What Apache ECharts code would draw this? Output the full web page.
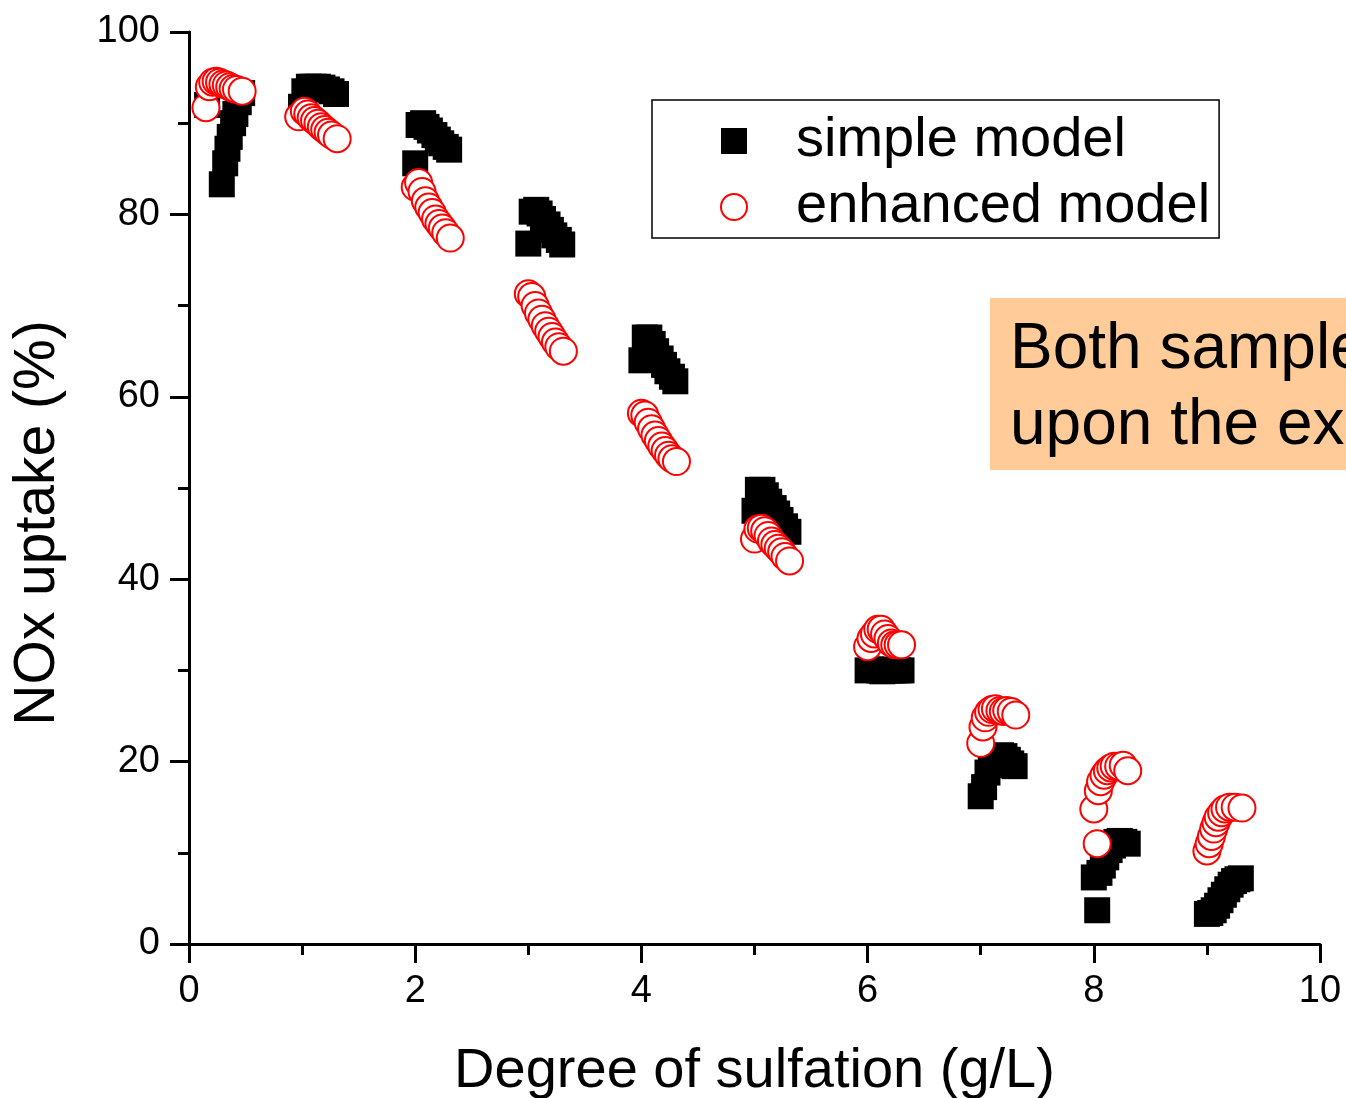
<!DOCTYPE html>
<html>
<head>
<meta charset="utf-8">
<script src="https://cdn.jsdelivr.net/npm/echarts@6/dist/echarts.min.js"></script>
<style>
  html, body { margin: 0; padding: 0; background: #fff; }
  #chart { width: 1346px; height: 1098px; }
</style>
</head>
<body>
<div id="chart"></div>
<script>
// NOx uptake versus degree of sulfation, simple vs. enhanced model
const FONT = '"Liberation Sans", Arial, Helvetica, sans-serif';

const xTickValues = [0, 2, 4, 6, 8, 10];
const yTickValues = [0, 20, 40, 60, 80, 100];

const simpleX = [
  0.16, 0.29, 0.32, 0.34, 0.36, 0.39, 0.41, 0.44, 0.47,
  0.99, 1.02, 1.06, 1.10, 1.14, 1.18, 1.22, 1.26, 1.30,
  2.00, 2.03, 2.07, 2.10, 2.13, 2.17, 2.20, 2.23, 2.27, 2.30,
  3.00, 3.03, 3.07, 3.10, 3.13, 3.17, 3.20, 3.23, 3.27, 3.30,
  4.00, 4.03, 4.07, 4.10, 4.13, 4.17, 4.20, 4.23, 4.27, 4.30,
  5.00, 5.03, 5.07, 5.10, 5.13, 5.17, 5.20, 5.23, 5.27, 5.30,
  6.00, 6.03, 6.07, 6.10, 6.13, 6.17, 6.20, 6.23, 6.27, 6.30,
  7.00, 7.03, 7.06, 7.09, 7.12, 7.15, 7.18, 7.21, 7.24, 7.27, 7.30,
  8.03, 8.00, 8.05, 8.08, 8.11, 8.14, 8.17, 8.20, 8.23, 8.27, 8.30,
  9.00, 9.03, 9.06, 9.09, 9.12, 9.15, 9.18, 9.21, 9.24, 9.27, 9.30
];
const simpleY = [
  92.0, 83.3, 85.6, 87.2, 88.5, 90.0, 91.0, 92.3, 93.3,
  91.8, 93.5, 94.0, 94.0, 94.0, 93.9, 93.7, 93.5, 93.2,
  85.6, 89.8, 90.0, 89.6, 89.2, 88.7, 88.2, 87.8, 87.4, 87.1,
  76.8, 80.3, 80.5, 80.1, 79.5, 78.9, 78.3, 77.7, 77.2, 76.7,
  64.0, 66.5, 66.5, 65.8, 65.0, 64.2, 63.5, 62.8, 62.2, 61.7,
  47.5, 49.8, 49.8, 49.2, 48.5, 47.8, 47.2, 46.5, 45.8, 45.2,
  30.0, 30.1, 30.1, 30.0, 29.9, 30.0, 30.0, 30.0, 30.0, 30.0,
  16.2, 17.2, 18.8, 19.6, 20.2, 20.5, 20.7, 20.6, 20.2, 19.8, 19.5,
  3.7, 7.3, 7.8, 8.6, 9.5, 10.3, 10.8, 11.2, 11.3, 11.2, 11.0,
  3.3, 3.4, 3.7, 4.2, 4.8, 5.4, 6.0, 6.5, 6.9, 7.1, 7.2
];

const enhancedX = [
  0.15, 0.18, 0.21, 0.24, 0.27, 0.30, 0.33, 0.36, 0.39, 0.42, 0.47,
  0.97, 1.02, 1.05, 1.08, 1.11, 1.14, 1.17, 1.20, 1.23, 1.26, 1.31,
  2.00, 2.03, 2.06, 2.09, 2.12, 2.15, 2.18, 2.21, 2.24, 2.27, 2.31,
  3.00, 3.03, 3.06, 3.09, 3.12, 3.15, 3.18, 3.21, 3.24, 3.27, 3.31,
  4.00, 4.03, 4.06, 4.09, 4.12, 4.15, 4.18, 4.21, 4.24, 4.27, 4.31,
  5.00, 5.03, 5.06, 5.09, 5.12, 5.15, 5.18, 5.21, 5.24, 5.27, 5.31,
  6.00, 6.03, 6.06, 6.09, 6.12, 6.15, 6.18, 6.21, 6.24, 6.27, 6.30,
  7.00, 7.02, 7.04, 7.07, 7.10, 7.13, 7.17, 7.20, 7.23, 7.27, 7.31,
  8.00, 8.03, 8.04, 8.06, 8.09, 8.12, 8.15, 8.18, 8.22, 8.26, 8.30,
  9.00, 9.02, 9.04, 9.06, 9.08, 9.10, 9.13, 9.16, 9.20, 9.25, 9.31
];
const enhancedY = [
  91.7, 94.0, 94.5, 94.6, 94.5, 94.3, 94.2, 94.0, 93.8, 93.7, 93.5,
  90.7, 91.3, 91.0, 90.6, 90.3, 90.0, 89.6, 89.3, 89.0, 88.7, 88.3,
  83.0, 83.5, 82.5, 81.5, 80.8, 80.2, 79.5, 79.0, 78.5, 78.0, 77.4,
  71.3, 71.0, 70.0, 69.2, 68.5, 67.8, 67.2, 66.6, 66.0, 65.5, 65.0,
  58.2, 58.0, 57.2, 56.5, 55.8, 55.2, 54.6, 54.1, 53.6, 53.2, 52.9,
  44.4, 45.5, 45.6, 45.3, 44.8, 44.2, 43.8, 43.4, 43.0, 42.5, 42.0,
  32.6, 33.5, 34.0, 34.5, 34.5, 34.0, 33.5, 33.0, 32.8, 32.8, 32.8,
  22.0, 23.8, 24.8, 25.4, 25.7, 25.8, 25.6, 25.5, 25.6, 25.5, 25.1,
  14.8, 11.0, 16.8, 17.8, 18.5, 19.0, 19.3, 19.5, 19.5, 19.6, 19.0,
  10.2, 11.0, 11.8, 12.6, 13.3, 13.9, 14.4, 14.8, 15.0, 15.0, 14.9
];

const seriesNames = ['simple model', 'enhanced model'];
const noteLines = ['Both samples', 'upon the exposure'];

const zip = (xs, ys) => xs.map((x, i) => [x, ys[i]]);

const axisCommon = {
  axisLine: { show: true, onZero: false, lineStyle: { color: '#000', width: 3 } },
  axisTick: { show: true, inside: false, length: 19, lineStyle: { color: '#000', width: 3 } },
  minorTick: { show: true, splitNumber: 2, length: 11, lineStyle: { color: '#000', width: 3 } },
  splitLine: { show: false },
  axisLabel: { color: '#000', fontFamily: FONT, fontSize: 38, margin: 29 }
};

const chart = echarts.init(document.getElementById('chart'), null, { renderer: 'canvas' });

chart.setOption({
  backgroundColor: '#fff',
  animation: false,
  grid: { left: 189, right: 26, top: 32, bottom: 154, containLabel: false, outerBoundsMode: 'none' },
  xAxis: Object.assign({}, axisCommon, {
    type: 'value',
    min: xTickValues[0],
    max: xTickValues[xTickValues.length - 1],
    interval: xTickValues[1] - xTickValues[0],
    name: 'Degree of sulfation (g/L)',
    nameLocation: 'middle',
    nameGap: 100,
    nameTextStyle: { color: '#000', fontFamily: FONT, fontSize: 56 }
  }),
  yAxis: Object.assign({}, axisCommon, {
    type: 'value',
    min: yTickValues[0],
    max: yTickValues[yTickValues.length - 1],
    interval: yTickValues[1] - yTickValues[0],
    name: 'NOx uptake (%)',
    nameLocation: 'middle',
    nameGap: 122,
    nameTextStyle: { color: '#000', fontFamily: FONT, fontSize: 57, padding: [0, 70, 0, 0] }
  }),
  legend: {
    orient: 'vertical',
    left: 652,
    top: 100,
    padding: [13, 9, 3, 68],
    itemGap: 10,
    itemWidth: 26,
    itemHeight: 26,
    borderColor: '#000',
    borderWidth: 1.5,
    backgroundColor: '#fff',
    selectedMode: false,
    data: seriesNames,
    textStyle: { color: '#000', fontFamily: FONT, fontSize: 56, lineHeight: 56, padding: [0, 0, 0, 44] }
  },
  graphic: [
    {
      type: 'rect',
      left: 990,
      top: 298,
      shape: { width: 420, height: 172 },
      style: { fill: '#FFCC99' },
      z: 50
    },
    {
      type: 'text',
      left: 1010,
      top: 318,
      style: { text: noteLines[0], fill: '#000', font: '64px ' + FONT },
      z: 51
    },
    {
      type: 'text',
      left: 1010,
      top: 394,
      style: { text: noteLines[1], fill: '#000', font: '64px ' + FONT },
      z: 51
    }
  ],
  series: [
    {
      name: seriesNames[0],
      type: 'scatter',
      symbol: 'rect',
      symbolSize: 26,
      itemStyle: { color: '#000', opacity: 1 },
      emphasis: { disabled: true },
      data: zip(simpleX, simpleY)
    },
    {
      name: seriesNames[1],
      type: 'scatter',
      symbol: 'circle',
      symbolSize: 27,
      itemStyle: { color: '#fff', borderColor: '#ff0000', borderWidth: 2, opacity: 1 },
      emphasis: { disabled: true },
      data: zip(enhancedX, enhancedY)
    }
  ]
});
</script>
</body>
</html>
